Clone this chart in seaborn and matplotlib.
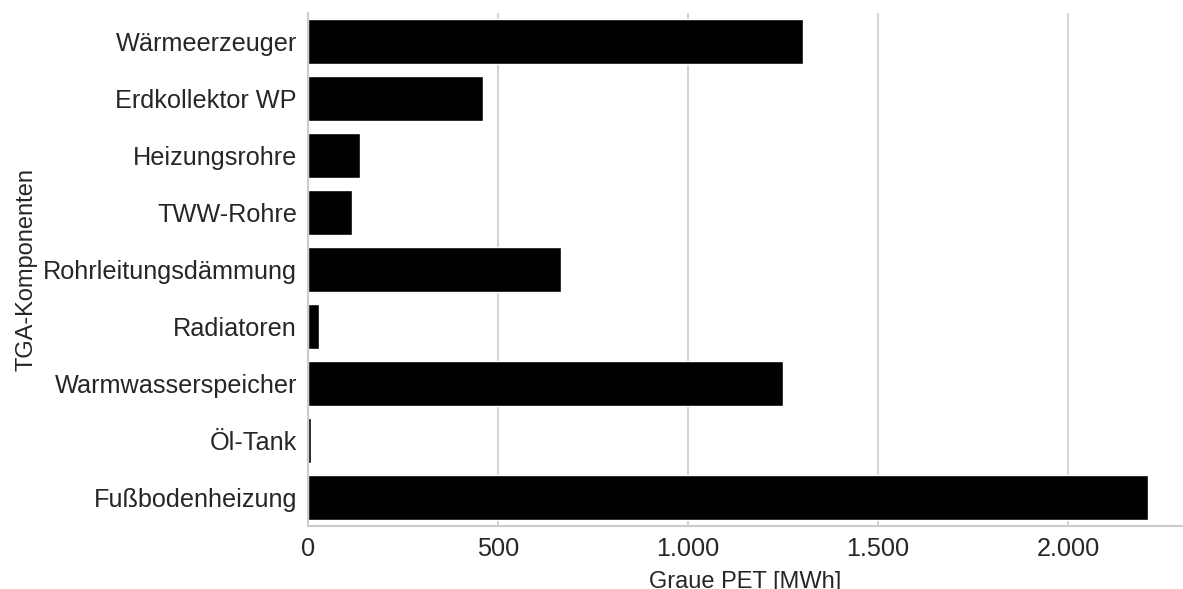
import numpy as np
import pandas as pd
import matplotlib
matplotlib.use("Agg")
import matplotlib.pyplot as plt
from matplotlib.ticker import FuncFormatter, MultipleLocator
import seaborn as sns

komponenten = [
    "Wärmeerzeuger",
    "Erdkollektor WP",
    "Heizungsrohre",
    "TWW-Rohre",
    "Rohrleitungsdämmung",
    "Radiatoren",
    "Warmwasserspeicher",
    "Öl-Tank",
    "Fußbodenheizung",
]
graue_pet = [1303, 460, 137, 116, 666, 29, 1250, 8, 2210]

df = pd.DataFrame({"TGA-Komponenten": komponenten, "Graue PET [MWh]": graue_pet})

sns.set_theme(style="whitegrid")
plt.rcParams["font.family"] = ["Liberation Sans", "DejaVu Sans"]

fig = plt.figure(figsize=(11.83, 5.89), dpi=100)
ax = fig.add_axes([0.2604, 0.107, 0.7396, 0.871])

sns.barplot(data=df, x="Graue PET [MWh]", y="TGA-Komponenten", color="black",
            saturation=1, orient="h", ax=ax, width=0.8)

ax.set_xlim(0, 2302)
ax.xaxis.set_major_locator(MultipleLocator(500))
ax.xaxis.set_major_formatter(FuncFormatter(lambda v, p: f"{v:,.0f}".replace(",", ".")))
ax.grid(axis="y", visible=False)
ax.grid(axis="x", color="#d0d0d0", linewidth=1.3)

for side in ["top", "right"]:
    ax.spines[side].set_visible(False)
for side in ["left", "bottom"]:
    ax.spines[side].set_color("#cccccc")
    ax.spines[side].set_linewidth(1.5)

ax.tick_params(axis="both", labelsize=18.2, colors="#262626", length=0, pad=8)
ax.set_xlabel("Graue PET [MWh]", fontsize=17, color="#262626", labelpad=7)
ax.set_ylabel("TGA-Komponenten", fontsize=17, color="#262626", labelpad=4)

fig.savefig("out.png", dpi=100)
